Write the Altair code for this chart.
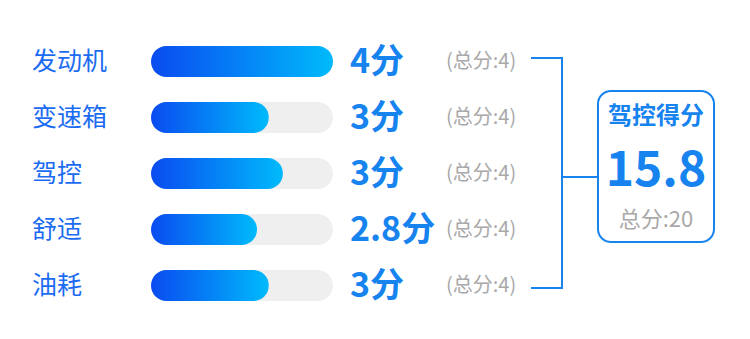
import altair as alt
import pandas as pd

categories = ["发动机", "变速箱", "驾控", "舒适", "油耗"]
scores = [4, 3, 3, 2.8, 3]
bar_fill = [4, 2.59, 2.9, 2.33, 2.59]   # filled length
max_each = [4, 4, 4, 4, 4]
summary_title = "驾控得分"
summary_score = 15.8
summary_total = 20

FONT = "Noto Sans CJK SC"
BLUE_TXT = "#1c6cf2"
BLUE = "#1683ef"
GRAY = "#a9a9a9"

df = pd.DataFrame({
    "cat": categories,
    "score": scores,
    "fill": bar_fill,
    "max": max_each,
})
df["score_label"] = [f"{s:g}分" for s in scores]
df["max_label"] = [f"(总分:{m})" for m in max_each]

summary = pd.DataFrame({
    "title": [summary_title],
    "score": [f"{summary_score:g}"],
    "total": [f"总分:{summary_total}"],
})

y_enc = alt.Y("cat:N", sort=categories, axis=None,
              scale=alt.Scale(type="point", domain=categories, range=[61.5, 285.5], padding=0))
x_scale = alt.Scale(domain=[0, 4], range=[151, 333], zero=True)

base = alt.Chart(df)

track = base.mark_bar(height=31, cornerRadius=15.5, color="#efefef").encode(
    x=alt.X("max:Q", scale=x_scale, axis=None), y=y_enc)

grad = alt.Gradient(
    gradient="linear",
    stops=[alt.GradientStop(color="#0a4bf0", offset=0),
           alt.GradientStop(color="#00bafb", offset=1)],
    x1=0, x2=1, y1=0, y2=0)

fill = base.mark_bar(height=31, cornerRadius=15.5, color=grad).encode(
    x=alt.X("fill:Q", scale=x_scale, axis=None), y=y_enc)

cat_text = base.mark_text(align="left", baseline="middle", font=FONT,
                          fontSize=25, color=BLUE_TXT).encode(
    x=alt.value(32), y=y_enc, text="cat:N")

score_text = base.mark_text(align="left", baseline="middle", font=FONT,
                            fontSize=34, fontWeight="bold", color=BLUE, dy=1).encode(
    x=alt.value(350), y=y_enc, text="score_label:N")

max_text = base.mark_text(align="left", baseline="middle", font=FONT,
                          fontSize=20, color=GRAY).encode(
    x=alt.value(446), y=y_enc, text="max_label:N")

sb = alt.Chart(summary)
rule_style = dict(color=BLUE, strokeWidth=2)
top_h = sb.mark_rule(**rule_style).encode(x=alt.value(531), x2=alt.value(563), y=alt.value(58))
bot_h = sb.mark_rule(**rule_style).encode(x=alt.value(531), x2=alt.value(563), y=alt.value(288))
vert = sb.mark_rule(**rule_style).encode(x=alt.value(562), y=alt.value(57), y2=alt.value(289))
mid_h = sb.mark_rule(**rule_style).encode(x=alt.value(562), x2=alt.value(598), y=alt.value(177))

box = sb.mark_rect(cornerRadius=13, fill="white", stroke=BLUE, strokeWidth=2).encode(
    x=alt.value(598), x2=alt.value(714), y=alt.value(91), y2=alt.value(242))

box_title = sb.mark_text(align="center", baseline="middle", font=FONT, fontSize=24,
                         fontWeight="bold", color=BLUE).encode(
    x=alt.value(656), y=alt.value(117), text="title:N")
box_score = sb.mark_text(align="center", baseline="middle", font=FONT, fontSize=48,
                         fontWeight="bold", color=BLUE).encode(
    x=alt.value(656), y=alt.value(172), text="score:N")
box_total = sb.mark_text(align="center", baseline="middle", font=FONT, fontSize=22,
                         color=GRAY).encode(
    x=alt.value(656), y=alt.value(220), text="total:N")

chart = alt.layer(
    track, fill, cat_text, score_text, max_text,
    top_h, bot_h, vert, mid_h, box, box_title, box_score, box_total
).properties(
    width=750, height=339, padding=0, autosize=alt.AutoSizeParams(type="none"),
    background="white"
).configure_view(stroke=None)

chart.save("out.html", embed_options={"renderer": "svg", "actions": False})
